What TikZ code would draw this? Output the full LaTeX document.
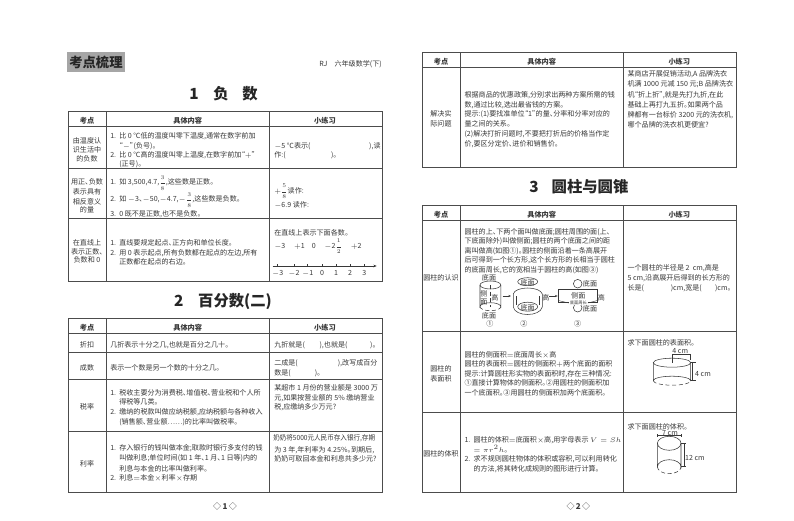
\documentclass[tikz,border=0pt]{standalone}
\usepackage{fontspec}
\setmainfont{Noto Sans CJK SC}[RawFeature=+palt]
\usetikzlibrary{arrows.meta}
\newcounter{tlc}
\definecolor{ink}{gray}{0.22}
\definecolor{rule}{gray}{0.3}
\definecolor{headbg}{gray}{0.65}
\tikzset{
 x=0.75pt,y=-0.75pt,
 body/.style={inner sep=0pt,text=ink,yshift=-0.4pt,font=\fontsize{5.3}{6.4}\selectfont},
 lft/.style={body,anchor=mid west},
 ctr/.style={body,anchor=mid},
 tinyt/.style={ctr,font=\fontsize{3.2}{4}\selectfont},
 rgt/.style={body,anchor=mid east},
 hdr/.style={ctr,font=\fontsize{5.4}{6.4}\selectfont\bfseries},
 ttl/.style={inner sep=0pt,anchor=mid,yshift=-2pt,text=black!85,font=\fontsize{11.5}{13}\selectfont\bfseries},
 tbl/.style={draw=rule,line width=0.7pt},
 fig/.style={draw=ink,line width=0.4pt},
 dimn/.style={draw=ink,line width=0.45pt},
}
\newcommand{\LL}[3]{\stepcounter{tlc}\node[lft] (t\arabic{tlc}) at (#1,#2) {#3};}
\newcommand{\CC}[3]{\stepcounter{tlc}\node[ctr] (t\arabic{tlc}) at (#1,#2) {#3};}
\newcommand{\HH}[3]{\stepcounter{tlc}\node[hdr] (t\arabic{tlc}) at (#1,#2) {#3};}
\newcommand{\TT}[3]{\stepcounter{tlc}\node[ttl] (t\arabic{tlc}) at (#1,#2) {#3};}
\newcommand{\FR}[2]{\scalebox{0.85}{$\displaystyle\frac{#1}{#2}$}}
\newcommand{\MYTABLE}[7]{% x0 x1 x2 x3 top headbottom bottom
 \draw[tbl] (#1,#5) rectangle (#4,#7);
 \draw[tbl] (#2,#5) -- (#2,#7);
 \draw[tbl] (#3,#5) -- (#3,#7);
 \draw[tbl] (#1,#6) -- (#4,#6);
}
\begin{document}
\begin{tikzpicture}
\useasboundingbox (0,0) rectangle (794,521);
\fill[white] (0,0) rectangle (794,521);
% ---- left page header
\fill[headbg] (67,52.3) rectangle (125,71.7);
\node[inner sep=0pt,anchor=mid,yshift=-0.8pt,text=black!85,font=\fontsize{10}{12}\selectfont\bfseries] (head) at (96,62.6) {考点梳理};
\node[rgt] (rj) at (382,62.7) {RJ\quad 六年级数学(下)};
% ---- table 1
\MYTABLE{68}{106.5}{269.5}{382}{111.7}{126}{281}
\draw[tbl] (68,168.7) -- (382,168.7);
\draw[tbl] (68,218.3) -- (382,218.3);
\TT{194}{93.3}{1}\TT{221}{93.3}{负}\TT{250}{93.3}{数}
\HH{87}{119.3}{考点}\HH{187.7}{119.3}{具体内容}\HH{325}{119.3}{小练习}
\CC{87}{139}{由温度认}\CC{87}{148}{识生活中}\CC{87}{157}{的负数}
\LL{110}{134.7}{1.\ \ 比 0 ℃低的温度叫零下温度,通常在数字前加}
\LL{119}{144}{“$-$”(负号)。}
\LL{110}{153}{2.\ \ 比 0 ℃高的温度叫零上温度,在数字前加“$+$”}
\LL{119}{162}{(正号)。}
\LL{274}{144}{$-$5 ℃表示(\hspace{44pt}),读}
\LL{274}{153.3}{作:(\hspace{34pt})。}
\CC{87}{180.7}{用正、负数}\CC{87}{190.5}{表示具有}\CC{87}{200}{相反意义}\CC{87}{208.7}{的量}
\LL{110}{180.7}{1.\ \ 如 3,500,4.7,\FR{3}{8},这些数是正数。}
\LL{110}{197.3}{2.\ \ 如 $-$3、$-$50,$-$4.7,$-$\FR{3}{8},这些数是负数。}
\LL{110}{212}{3.\ \ 0 既不是正数,也不是负数。}
\LL{274}{189}{$+$\FR{5}{8}读作:}
\LL{274}{203.3}{$-$6.9 读作:}
\CC{87}{241.7}{在直线上}\CC{87}{250.3}{表示正数、}\CC{87}{258.3}{负数和 0}
\LL{110}{241.7}{1.\ \ 直线要规定起点、正方向和单位长度。}
\LL{110}{251}{2.\ \ 用 0 表示起点,所有负数都在起点的左边,所有}
\LL{119}{260}{正数都在起点的右边。}
\LL{274}{231.7}{在直线上表示下面各数。}
\LL{274}{244}{$-$3\quad\ $+$1\quad 0\quad\ $-$2\FR{1}{2}\quad\ $+$2}
\draw[dimn,-{Stealth[length=2.5pt,width=2pt]}] (272.7,266) -- (376.7,266);
\foreach \px/\lb in {277.7/$-$3,294/$-$2,307.7/$-$1,322/0,336/1,350/2,364.3/3}{
 \draw[dimn] (\px,264) -- (\px,266);
 \node[ctr] at (\px,271.7) {\lb};
}
% ---- table 2
\MYTABLE{68}{106.5}{269.5}{382}{318.3}{333.3}{492.3}
\draw[tbl] (68,352.3) -- (382,352.3);
\draw[tbl] (68,379.3) -- (382,379.3);
\draw[tbl] (68,431) -- (382,431);
\TT{178.7}{300.7}{2}\TT{235}{300.7}{百分数(二)}
\HH{87}{326}{考点}\HH{187.7}{326}{具体内容}\HH{325}{326}{小练习}
\CC{87}{343.3}{折扣}
\LL{110}{343.3}{几折表示十分之几,也就是百分之几十。}
\LL{274}{343.3}{九折就是(\hspace{11pt}),也就是(\hspace{17pt})。}
\CC{87}{366.7}{成数}
\LL{110}{366.7}{表示一个数是另一个数的十分之几。}
\LL{274}{361.7}{二成是(\hspace{30pt}),改写成百分}
\LL{274}{371.7}{数是(\hspace{18pt})。}
\CC{87}{405}{税率}
\LL{110}{391}{1.\ \ 税收主要分为消费税、增值税、营业税和个人所}
\LL{119}{400.7}{得税等几类。}
\LL{110}{410.7}{2.\ \ 缴纳的税款叫做应纳税额,应纳税额与各种收入}
\LL{119}{420.7}{(销售额、营业额……)的比率叫做税率。}
\LL{274}{386}{某超市 1 月份的营业额是 3000 万}
\LL{274}{396}{元,如果按营业额的 5\% 缴纳营业}
\LL{274}{405.7}{税,应缴纳多少万元?}
\CC{87}{462.3}{利率}
\LL{110}{446.7}{1.\ \ 存入银行的钱叫做本金;取款时银行多支付的钱}
\LL{119}{456.7}{叫做利息;单位时间(如 1 年、1 月、1 日等)内的}
\LL{119}{467.3}{利息与本金的比率叫做利率。}
\LL{110}{476.7}{2.\ \ 利息$=$本金$\times$利率$\times$存期}
\LL{273}{436.7}{\scalebox{0.93}[1]{奶奶将5000元人民币存入银行,存期}}
\LL{274}{448.3}{为 3 年,年利率为 4.25\%。到期后,}
\LL{274}{457.7}{奶奶可取回本金和利息共多少元?}
\node[ctr,font=\fontsize{6}{8}\selectfont] (pg1) at (225,505) {◇\,\textbf{1}\,◇};
% ---- right page table 1
\MYTABLE{422.3}{460.7}{623.3}{736.7}{52.3}{67.3}{167}
\HH{441}{60}{考点}\HH{541.7}{60}{具体内容}\HH{679.3}{60}{小练习}
\CC{441}{112.7}{解决实}\CC{441}{122.3}{际问题}
\LL{464.3}{93.3}{根据商品的优惠政策,分别求出两种方案所需的钱}
\LL{464.3}{103.3}{数,通过比较,选出最省钱的方案。}
\LL{464.3}{112.7}{提示:(1)要找准单位“1”的量、分率和分率对应的}
\LL{464.3}{122.7}{量之间的关系。}
\LL{464.3}{132.7}{(2)解决打折问题时,不要把打折后的价格当作定}
\LL{464.3}{142.7}{价,要区分定价、进价和销售价。}
\LL{627.3}{72.7}{某商店开展促销活动,A 品牌洗衣}
\LL{627.3}{82.7}{机满 1000 元减 150 元;B 品牌洗衣}
\LL{627.3}{93}{机“折上折”,就是先打九折,在此}
\LL{627.3}{103}{基础上再打九五折。如果两个品}
\LL{627.3}{113.3}{牌都有一台标价 3200 元的洗衣机,}
\LL{627.3}{123.3}{哪个品牌的洗衣机更便宜?}
% ---- right page table 2
\TT{534}{186.7}{3}\TT{590}{186.7}{圆柱与圆锥}
\MYTABLE{422.3}{460.7}{623.3}{736.7}{205.7}{220.7}{492.3}
\draw[tbl] (422.3,331.7) -- (736.7,331.7);
\draw[tbl] (422.3,412) -- (736.7,412);
\HH{441}{213.3}{考点}\HH{541.7}{213.3}{具体内容}\HH{679.3}{213.3}{小练习}
\CC{441}{276}{圆柱的认识}
\LL{464.3}{230}{圆柱的上、下两个面叫做底面;圆柱周围的面(上、}
\LL{464.3}{239.3}{下底面除外)叫做侧面;圆柱的两个底面之间的距}
\LL{464.3}{249}{离叫做高(如图①)。圆柱的侧面沿着一条高展开}
\LL{464.3}{258.7}{后可得到一个长方形,这个长方形的长相当于圆柱}
\LL{464.3}{268}{的底面周长,它的宽相当于圆柱的高(如图③)}
\LL{627.3}{266.7}{一个圆柱的半径是 2\ \ cm,高是}
\LL{627.3}{276}{5 cm,沿高展开后得到的长方形的}
\LL{627.3}{286.7}{长是(\hspace{20pt})cm,宽是(\hspace{10pt})cm。}
% figure 1
\draw[fig] (490.4,285) ellipse (10.4 and 4);
\draw[fig] (480,285) -- (480,306.7) arc[start angle=180,end angle=360,x radius=10.4,y radius=4] -- (500.8,285);
\draw[fig,densely dashed] (480,306.7) arc[start angle=180,end angle=0,x radius=10.4,y radius=4];
\draw[fig,densely dashed] (490.4,285) -- (490.4,306.7);
\CC{489}{276}{底面}\CC{484}{292.7}{侧}\CC{484}{300}{面}\CC{495}{296}{高}\CC{489}{314.3}{底面}\CC{490}{322.3}{①}
\draw[dimn,-{Stealth[length=2pt,width=1.6pt]}] (502.7,296) -- (511,296);
% figure 2
\draw[fig] (513.3,307) -- (513.3,294) .. controls (515,286) and (540,286) .. (542.3,294) -- (542.3,307) .. controls (540,317) and (515,317) .. (513.3,307);
\draw[fig] (516,296) -- (516,305);\draw[fig] (539.5,296) -- (539.5,305);
\draw[fig] (527.7,281.7) ellipse (10 and 4);
\draw[fig] (527.7,306.7) ellipse (10 and 4.5);
\CC{527.7}{281.7}{底面}\CC{527.7}{306.7}{底面}\CC{546}{296}{高}\CC{524}{322.3}{②}
\draw[dimn,-{Stealth[length=2pt,width=1.6pt]}] (549.3,296) -- (557.7,296);
% figure 3
\draw[fig,line width=0.55pt] (558.3,289) rectangle (597.3,302.7);
\draw[fig] (577.7,283.7) circle (4.3);
\draw[fig] (577.7,307.7) circle (4.3);
\CC{578.3}{294}{侧面}\CC{601.3}{296.7}{高}\CC{590}{282.7}{底面}\CC{590}{307.7}{底面}\CC{577.7}{322.3}{③}
\node[tinyt,fill=white,inner xsep=0.5pt] (zc) at (578.3,300.5) {底面周长};
\draw[dimn,line width=0.3pt] (558.3,300.5) -- (zc.west);
\draw[dimn,line width=0.3pt] (zc.east) -- (597.3,300.5);
% row 2
\CC{441}{367.3}{圆柱的}\CC{441}{377.3}{表面积}
\LL{464.3}{353}{圆柱的侧面积$=$底面周长$\times$高}
\LL{464.3}{362.7}{圆柱的表面积$=$圆柱的侧面积$+$两个底面的面积}
\LL{464.3}{372}{提示:计算圆柱形实物的表面积时,存在三种情况:}
\LL{464.3}{381.3}{①直接计算物体的侧面积。②用圆柱的侧面积加}
\LL{464.3}{391}{一个底面积。③用圆柱的侧面积加两个底面积。}
\LL{627.3}{341.7}{求下面圆柱的表面积。}
\draw[fig] (672,362.7) ellipse (18.7 and 4.5);
\draw[fig] (653.3,362.7) -- (653.3,380.7) arc[start angle=180,end angle=360,x radius=18.7,y radius=4.5] -- (690.7,362.7);
\draw[fig,densely dashed] (653.3,380.7) arc[start angle=180,end angle=0,x radius=18.7,y radius=4.5];
\draw[dimn] (672,362.7) -- (672,354.3) -- (690,354.3) -- (690,360);
\draw[dimn] (692.7,362.7) -- (692.7,380.7);
\draw[dimn] (690.7,362.7) -- (696,362.7);
\draw[dimn] (690.7,380.7) -- (696,380.7);
\CC{680.3}{349.5}{4 cm}\CC{703}{372.7}{4 cm}
% row 3
\CC{441}{452}{圆柱的体积}
\LL{464.3}{438.3}{1.\ \ 圆柱的体积$=$底面积$\times$高,用字母表示 $V=Sh$}
\LL{473.3}{448.3}{$=\pi r^2h$。}
\LL{464.3}{457.7}{2.\ \ 求不规则圆柱物体的体积或容积,可以利用转化}
\LL{473.3}{467.3}{的方法,将其转化成规则的图形进行计算。}
\LL{627.3}{425}{求下面圆柱的体积。}
\draw[fig] (669.2,443.3) ellipse (11.8 and 7);
\draw[fig] (657.4,443.3) -- (657.4,466.7) arc[start angle=180,end angle=360,x radius=11.8,y radius=7] -- (681,443.3);
\draw[fig,densely dashed] (657.4,466.7) arc[start angle=180,end angle=0,x radius=11.8,y radius=7];
\draw[dimn] (657.4,434) -- (657.4,437.4);
\draw[dimn] (681,434) -- (681,437.4);
\draw[dimn] (657.4,435.7) -- (681,435.7);
\draw[dimn] (684,443.3) -- (684,466.7);
\draw[dimn] (681,443.3) -- (686,443.3);
\draw[dimn] (681,466.7) -- (686,466.7);
\CC{670}{431.5}{7 cm}\CC{695}{456.7}{12 cm}
\node[ctr,font=\fontsize{6}{8}\selectfont] (pg2) at (578.3,505) {◇\,\textbf{2}\,◇};
\end{tikzpicture}
\end{document}
